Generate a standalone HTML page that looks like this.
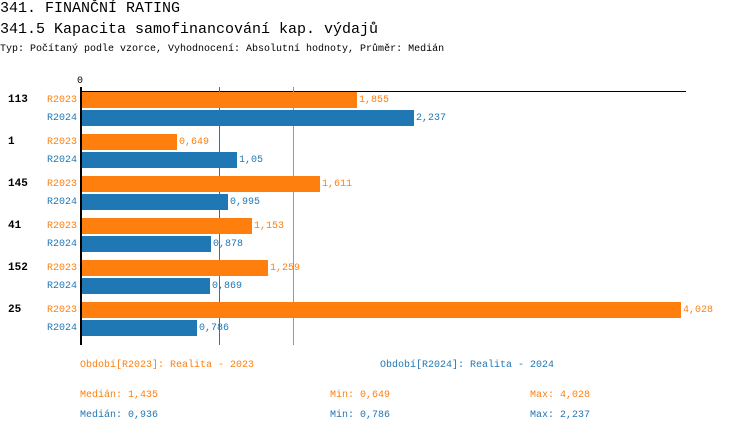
<!DOCTYPE html>
<html><head><meta charset="utf-8"><style>
body{margin:0;width:750px;height:434px;background:#fff;font-family:"Liberation Mono",monospace;position:relative;overflow:hidden}
.t{position:absolute;white-space:nowrap}
.o{color:#ff7f0e}.b{color:#1f77b4}
.bar{position:absolute;height:16px}
</style></head><body>
<div class="t" style="left:0;top:0;font-size:15px">341. FINANČNÍ RATING</div>
<div class="t" style="left:0;top:21px;font-size:15px">341.5 Kapacita samofinancování kap. výdajů</div>
<div class="t" style="left:0;top:44px;font-size:10px">Typ: Počítaný podle vzorce, Vyhodnocení: Absolutní hodnoty, Průměr: Medián</div>
<div class="t" style="left:77px;top:76px;font-size:10px">0</div>
<div style="position:absolute;left:80px;top:91px;width:606px;height:1px;background:#000"></div>
<div style="position:absolute;left:80px;top:87px;width:2px;height:258px;background:#000"></div>
<div style="position:absolute;left:219px;top:87px;width:1px;height:258px;background:#1f77b4"></div>
<div style="position:absolute;left:293px;top:87px;width:1px;height:258px;background:#ff7f0e"></div>
<div id="g"></div>
<script>
var d=[["113",1.855,"1,855",2.237,"2,237"],["1",0.649,"0,649",1.05,"1,05"],["145",1.611,"1,611",0.995,"0,995"],["41",1.153,"1,153",0.878,"0,878"],["152",1.259,"1,259",0.869,"0,869"],["25",4.028,"4,028",0.786,"0,786"]];
var h="";var s=149.2;
d.forEach(function(r,i){var y=92+i*42;
h+='<div class="t" style="left:8px;top:'+(y+2)+'px;font-size:11px;font-weight:bold">'+r[0]+'</div>';
h+='<div class="t o" style="left:47px;top:'+(y+3)+'px;font-size:10px">R2023</div>';
h+='<div class="t b" style="left:47px;top:'+(y+21)+'px;font-size:10px">R2024</div>';
var w1=Math.round(r[1]*s)-2,w2=Math.round(r[3]*s)-2;
h+='<div class="bar" style="background:#ff7f0e;left:82px;top:'+y+'px;width:'+w1+'px"></div>';
h+='<div class="bar" style="background:#1f77b4;left:82px;top:'+(y+18)+'px;width:'+w2+'px"></div>';
h+='<div class="t o" style="left:'+(84+w1)+'px;top:'+(y+3)+'px;font-size:10px">'+r[2]+'</div>';
h+='<div class="t b" style="left:'+(84+w2)+'px;top:'+(y+21)+'px;font-size:10px">'+r[4]+'</div>';
});
document.getElementById("g").innerHTML=h;
</script>
<div class="t o" style="left:80px;top:360px;font-size:10px">Období[R2023]: Realita - 2023</div>
<div class="t b" style="left:380px;top:360px;font-size:10px">Období[R2024]: Realita - 2024</div>
<div class="t o" style="left:80px;top:390px;font-size:10px">Medián: 1,435</div>
<div class="t o" style="left:330px;top:390px;font-size:10px">Min: 0,649</div>
<div class="t o" style="left:530px;top:390px;font-size:10px">Max: 4,028</div>
<div class="t b" style="left:80px;top:410px;font-size:10px">Medián: 0,936</div>
<div class="t b" style="left:330px;top:410px;font-size:10px">Min: 0,786</div>
<div class="t b" style="left:530px;top:410px;font-size:10px">Max: 2,237</div>
</body></html>
